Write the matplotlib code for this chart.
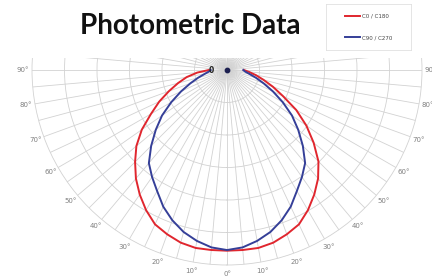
import numpy as np
import matplotlib
matplotlib.use("Agg")
import matplotlib.pyplot as plt
from matplotlib.patches import Rectangle

# ---- data (intensity, arbitrary units; outer ring = 300) ----
gamma = [0, 5, 10, 15, 20, 25, 30, 35, 40, 45, 50, 55, 60, 65, 70, 75, 80, 85, 90]
c0   = [278, 278, 278, 275, 269, 262, 249, 234, 218, 199, 174, 149, 123, 95, 75, 58, 45, 34, 26]
c180 = [278, 278, 278, 275, 269, 262, 249, 234, 218, 200, 182, 160, 135, 115, 95, 78, 63, 46, 28]
c90  = [277, 274, 267, 258, 246, 232, 215, 201, 187, 165, 143, 122, 99, 78, 60, 46, 35, 28, 25]
c270 = [277, 274, 267, 258, 246, 232, 215, 201, 187, 165, 143, 122, 99, 78, 60, 46, 35, 28, 25]
series_labels = ["C0 / C180", "C90 / C270"]
ring_values = [50, 100, 150, 200, 250]
r_max = 300
title = "Photometric Data"

W, H = 432, 278
fig = plt.figure(figsize=(W / 100, H / 100), dpi=100)
fig.patch.set_facecolor("white")

cx, cy, R = 227, 70, 195
ax = fig.add_axes([(cx - R) / W, (H - (cy + R)) / H, 2 * R / W, 2 * R / H],
                  projection="polar")
ax.set_theta_zero_location("S")
ax.set_theta_direction(1)
ax.set_ylim(0, r_max)
ax.set_yticks(ring_values)
ax.set_yticklabels([])

angles = list(range(0, 360, 5))
labels = []
for a in angles:
    if a % 10 == 0 and (a <= 90 or a >= 270):
        labels.append(f"{min(a, 360 - a)}°")
    else:
        labels.append("")
ax.set_thetagrids(angles, labels)
ax.tick_params(axis="x", labelsize=5, colors="#808080", pad=-4)
ax.grid(True, color="#d2d2d2", linewidth=0.6)
ax.spines["polar"].set_color("#d2d2d2")
ax.spines["polar"].set_linewidth(0.6)

g = np.deg2rad(np.array(gamma))
th_red = np.concatenate([-g[::-1], g[1:]])
r_red = np.concatenate([np.array(c180)[::-1], np.array(c0)[1:]])
th_blue = np.concatenate([-g[::-1], g[1:]])
r_blue = np.concatenate([np.array(c270)[::-1], np.array(c90)[1:]])

l1, = ax.plot(th_red, r_red, color="#e0262e", lw=1.4, label=series_labels[0], zorder=3)
l2, = ax.plot(th_blue, r_blue, color="#353f98", lw=1.4, label=series_labels[1], zorder=4)
ax.scatter([0], [0], s=10, color="#1c2050", zorder=5)
ax.text(np.deg2rad(270), 24, "0", ha="center", va="center", fontsize=5.5,
        color="#222222", fontweight="bold", zorder=6)

# cover the upper half above the visible band
fig.add_artist(Rectangle((0, (H - 58) / H), 1, 58 / H, transform=fig.transFigure,
                         facecolor="white", edgecolor="none", zorder=1))

fig.text(190 / W, 1 - 26 / H, title, ha="center", va="center", fontsize=20,
         fontweight="bold", family="Lato", color="#111111", zorder=3)

lax = fig.add_axes([326 / W, 1 - 50 / H, 85 / W, 46 / H], zorder=2)
lax.set_xticks([])
lax.set_yticks([])
for s in lax.spines.values():
    s.set_color("#e0e0e0")
    s.set_linewidth(0.6)
lax.legend(handles=[l1, l2], loc="center", frameon=False, fontsize=4,
           handlelength=2.8, handletextpad=0.3, labelspacing=3.0,
           labelcolor="#444444")

fig.savefig("out.png", dpi=100)
